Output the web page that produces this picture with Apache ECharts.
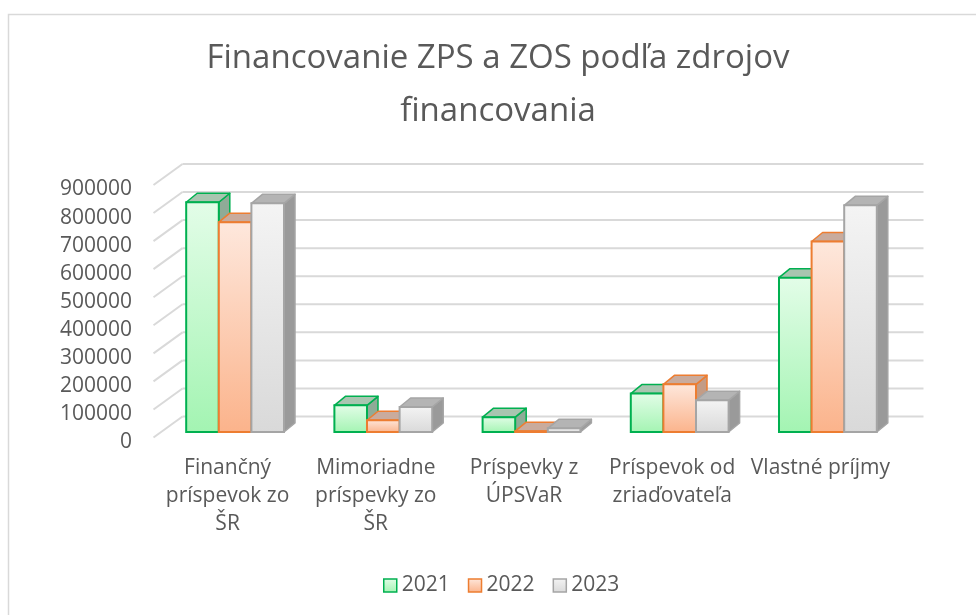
<!DOCTYPE html>
<html>
<head>
<meta charset="utf-8">
<title>Financovanie ZPS a ZOS</title>
<script src="https://cdn.jsdelivr.net/npm/echarts@6/dist/echarts.min.js"></script>
<style>
  html, body { margin: 0; padding: 0; overflow: hidden; background: #fff; }
  #chart { position: absolute; left: 0; top: 0; width: 996px; height: 615px; }
</style>
</head>
<body>
<div id="chart"></div>
<script>
// dáta z grafu
const categories = [
  "Finančný\npríspevok zo\nŠR",
  "Mimoriadne\npríspevky zo\nŠR",
  "Príspevky z\nÚPSVaR",
  "Príspevok od\nzriaďovateľa",
  "Vlastné príjmy"
];
const years = ["2021", "2022", "2023"];
const values2021 = [819000, 95000, 53000, 137000, 550000];
const values2022 = [748000, 42000, 3000, 170000, 679000];
const values2023 = [815000, 89000, 13000, 113000, 808000];
const yTicks = [0, 100000, 200000, 300000, 400000, 500000, 600000, 700000, 800000, 900000];

// vzhľad
const FONT = "'Open Sans', sans-serif";
const TEXT = "#595959";
const GRID_LINE = "#d9d9d9";
const BACK = [21.5, -15.5]; // zadná stena oproti rovine stĺpcov
const FRONT = [-7.5, 5.5]; // predná hrana oproti rovine stĺpcov
const DEPTH = [11, -9]; // hĺbka stĺpca
const BAR_RATIO = 0.22;

const looks = [
  { border: "#00b050", top: "#e3fde8", bottom: "#a3f4b2", lid: "#a9c5b0", side: "#8fab97" },
  { border: "#ed7d31", top: "#fee8dd", bottom: "#fbb38b", lid: "#c9ab9d", side: "#c39c86" },
  { border: "#a5a5a5", top: "#f4f4f4", bottom: "#d9d9d9", lid: "#b4b4b4", side: "#9a9a9a" }
];

function fillOf(c) {
  return {
    type: "linear", x: 0, y: 0, x2: 0, y2: 1,
    colorStops: [{ offset: 0, color: c.top }, { offset: 1, color: c.bottom }]
  };
}

// jeden 3D stĺpec: bok, vrch, predná stena
function barRenderer(k) {
  return function (params, api) {
    const base = api.coord([api.value(0), 0]);
    const top = api.coord([api.value(0), api.value(1)]);
    const w = api.size([1, 0])[0] * BAR_RATIO;
    const x0 = base[0] - 1.5 * w + k * w;
    const x1 = x0 + w;
    const yt = top[1], yb = base[1];
    const dx = DEPTH[0], dy = DEPTH[1];
    const c = looks[k];
    return {
      type: "group",
      children: [
        {
          type: "polygon",
          shape: { points: [[x1, yt], [x1 + dx, yt + dy], [x1 + dx, yb + dy], [x1, yb]] },
          style: { fill: c.side, stroke: c.border, lineWidth: 1.5, lineJoin: "round" }
        },
        {
          type: "polygon",
          shape: { points: [[x0, yt], [x0 + dx, yt + dy], [x1 + dx, yt + dy], [x1, yt]] },
          style: { fill: c.lid, stroke: c.border, lineWidth: 1.5, lineJoin: "round" }
        },
        {
          type: "rect",
          shape: { x: x0, y: yt, width: w, height: yb - yt },
          style: { fill: fillOf(c), stroke: c.border, lineWidth: 2 }
        }
      ]
    };
  };
}

// mriežka na zadnej a bočnej stene
function wallRenderer(params, api) {
  const cs = params.coordSys;
  const y = api.coord([0, api.value(1)])[1];
  const st = { stroke: GRID_LINE, lineWidth: 2 };
  return {
    type: "group",
    children: [
      { type: "line", shape: { x1: cs.x + FRONT[0], y1: y + FRONT[1], x2: cs.x + BACK[0], y2: y + BACK[1] }, style: st },
      { type: "line", shape: { x1: cs.x + BACK[0], y1: y + BACK[1], x2: cs.x + cs.width + BACK[0], y2: y + BACK[1] }, style: st }
    ]
  };
}

const seriesValues = [values2021, values2022, values2023];

const chart = echarts.init(document.getElementById("chart"));
chart.setOption({
  animation: false,
  textStyle: { fontFamily: FONT },
  title: {
    text: "Financovanie ZPS a ZOS podľa zdrojov\nfinancovania",
    left: "center",
    top: 32,
    padding: 0,
    textStyle: { fontFamily: FONT, fontSize: 33, fontWeight: "normal", color: TEXT, lineHeight: 53 }
  },
  legend: {
    data: years.map((y, k) => ({
      name: y,
      icon: "rect",
      itemStyle: { color: fillOf(looks[k]), borderColor: looks[k].border, borderWidth: 1.5 }
    })),
    left: 383,
    top: 575,
    padding: 0,
    itemWidth: 13,
    itemHeight: 13,
    itemGap: 18,
    selectedMode: false,
    textStyle: { fontFamily: FONT, fontSize: 21, color: TEXT, lineHeight: 21 }
  },
  graphic: [
    {
      type: "rect",
      shape: { x: 8.5, y: 14.5, width: 1000, height: 700 },
      style: { fill: null, stroke: "#d9d9d9", lineWidth: 1.5 },
      silent: true
    }
  ],
  grid: { left: 161, right: 94, top: 179.5, bottom: 183 },
  xAxis: {
    type: "category",
    data: categories,
    axisLine: { show: false },
    axisTick: { show: false },
    axisLabel: {
      interval: 0,
      margin: 22,
      padding: [0, 15, 0, 0],
      fontFamily: FONT,
      fontSize: 21,
      lineHeight: 28,
      color: TEXT
    }
  },
  yAxis: {
    type: "value",
    min: yTicks[0],
    max: yTicks[yTicks.length - 1],
    interval: yTicks[1] - yTicks[0],
    axisLine: { show: false },
    axisTick: { show: false },
    splitLine: { show: false },
    axisLabel: {
      margin: 29,
      verticalAlign: "top",
      lineHeight: 20,
      fontFamily: FONT,
      fontSize: 21,
      color: TEXT,
      formatter: v => String(v)
    }
  },
  series: [
    {
      type: "custom",
      silent: true,
      z: 1,
      renderItem: wallRenderer,
      encode: { x: 0, y: 1 },
      data: yTicks.map(v => [0, v])
    }
  ].concat(years.map((y, k) => ({
    name: y,
    type: "custom",
    z: 2,
    renderItem: barRenderer(k),
    encode: { x: 0, y: 1 },
    itemStyle: { color: looks[k].bottom, borderColor: looks[k].border },
    data: seriesValues[k].map((v, i) => [i, v])
  })))
});
</script>
</body>
</html>
